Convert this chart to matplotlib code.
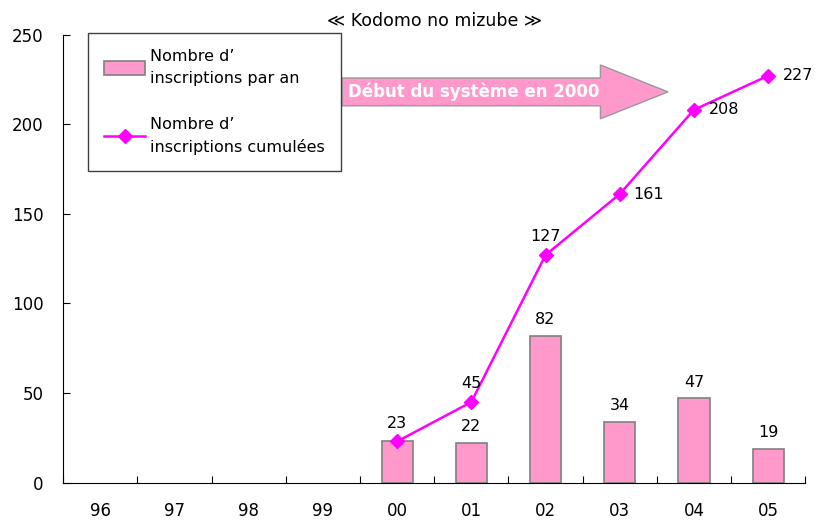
import numpy as np
import matplotlib.pyplot as plt
from matplotlib.patches import FancyArrow

plt.rcParams['font.family'] = ['DejaVu Sans', 'Noto Sans CJK JP']

years = ['96', '97', '98', '99', '00', '01', '02', '03', '04', '05']
per_year = [0, 0, 0, 0, 23, 22, 82, 34, 47, 19]
cumul_years = ['00', '01', '02', '03', '04', '05']
cumulative = [23, 45, 127, 161, 208, 227]

pink = '#ff99cc'
magenta = '#ff00ff'

fig = plt.figure(figsize=(8.2, 5.23), dpi=100)
ax = fig.add_axes([0.077, 0.077, 0.905, 0.857])

x = np.arange(len(years))
bars = ax.bar(x[4:], per_year[4:], width=0.42, color=pink, edgecolor='#808080',
              linewidth=1.2, label="Nombre d’\ninscriptions par an")
xc = [years.index(y) for y in cumul_years]
line, = ax.plot(xc, cumulative, color=magenta, lw=1.8, marker='D', ms=7.5,
                label="Nombre d’\ninscriptions cumulées")

# bar labels (the 2000 one coincides with the cumulative label)
for xi, v in zip(x[5:], per_year[5:]):
    ax.text(xi, v + 5, str(v), ha='center', va='bottom', fontsize=11.5)
offsets = {'00': (0, 6), '01': (0, 6), '02': (0, 6), '03': (0.18, 0), '04': (0.2, 0), '05': (0.2, 0)}
for yr, xi, v in zip(cumul_years, xc, cumulative):
    dx, dy = offsets[yr]
    ha = 'center' if dx == 0 else 'left'
    va = 'bottom' if dx == 0 else 'center'
    ax.text(xi + dx, v + dy, str(v), ha=ha, va=va, fontsize=11.5)

ax.set_xlim(-0.5, len(years) - 0.5)
ax.set_ylim(0, 250)
ax.set_yticks([0, 50, 100, 150, 200, 250])
ax.set_xticks(x)
ax.set_xticklabels(years)
ax.set_xticks(np.arange(-0.5, len(years)), minor=True)
ax.tick_params(axis='x', which='major', length=0, pad=14, labelsize=12)
ax.tick_params(axis='x', which='minor', direction='in', length=5, width=0.8)
ax.tick_params(axis='y', direction='in', length=5, width=0.8, pad=14, labelsize=12)
for s in ['top', 'right']:
    ax.spines[s].set_visible(False)

ax.set_title('≪ Kodomo no mizube ≫', fontsize=12.5, pad=6)

leg = ax.legend([bars, line], [bars.get_label(), line.get_label()],
                loc='upper left', bbox_to_anchor=(88 / 820, 1 - 33 / 523),
                bbox_transform=fig.transFigure, fontsize=11.5,
                frameon=True, fancybox=False, edgecolor='#404040', framealpha=1,
                handlelength=2.6, handleheight=1.0, handletextpad=0.3,
                labelspacing=1.9, borderpad=1.0, borderaxespad=0)
leg.get_frame().set_linewidth(1.0)
for t in leg.get_texts():
    t.set_linespacing(1.6)

arrow = FancyArrow(3.26, 218, 4.39, 0, width=15.5, head_width=30, head_length=0.91,
                   length_includes_head=True, facecolor=pink, edgecolor='#999999',
                   lw=1.0, zorder=3)
ax.add_patch(arrow)
ax.text(3.34, 218, 'Début du système en 2000', color='white', fontsize=12,
        fontweight='bold', ha='left', va='center', zorder=4)

fig.savefig('out.png', dpi=100)
